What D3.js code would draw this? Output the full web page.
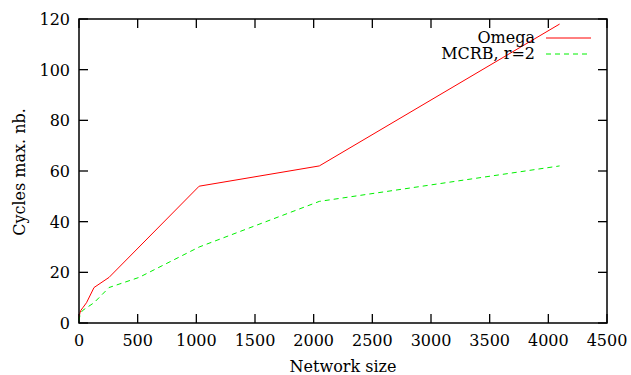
<!DOCTYPE html>
<html><head><meta charset="utf-8">
<script src="https://cdn.jsdelivr.net/npm/d3@7"></script>
<style>body{margin:0;background:#fff}svg{display:block}text{font-family:"DejaVu Serif","Liberation Serif",serif;fill:#000}</style>
</head><body>
<svg id="c" width="631" height="375"></svg>
<script>
const sizes = [2, 4, 8, 16, 32, 64, 128, 256, 512, 1024, 2048, 4096];
const omega = [2, 3, 4, 5, 6, 8, 14, 18, 30, 54, 62, 118];
const mcrb  = [1, 2, 3, 4, 5, 6, 8, 14, 18, 30, 48, 62];
const xTicks = [0, 500, 1000, 1500, 2000, 2500, 3000, 3500, 4000, 4500];
const yTicks = [0, 20, 40, 60, 80, 100, 120];
const seriesNames = ["Omega", "MCRB, r=2"];

const svg = d3.select("#c");
const L = 79, R = 607, T = 19, B = 323;
const x = d3.scaleLinear().domain([0, 4500]).range([L, R]);
const y = d3.scaleLinear().domain([0, 120]).range([B, T]);
const fs = 16, tl = 9;
const green = "#00f000", red = "#ff0000", dash = "5,4";

// ticks (inward, mirrored)
const g = svg.append("g").attr("stroke", "#000").attr("stroke-width", 1.3);
xTicks.forEach(v => {
  g.append("line").attr("x1", x(v)).attr("x2", x(v)).attr("y1", B).attr("y2", B - tl);
  g.append("line").attr("x1", x(v)).attr("x2", x(v)).attr("y1", T).attr("y2", T + tl);
});
yTicks.forEach(v => {
  g.append("line").attr("x1", L).attr("x2", L + tl).attr("y1", y(v)).attr("y2", y(v));
  g.append("line").attr("x1", R).attr("x2", R - tl).attr("y1", y(v)).attr("y2", y(v));
});

// tick labels
svg.append("g").selectAll("text").data(xTicks).join("text")
  .attr("x", d => x(d)).attr("y", 346).attr("text-anchor", "middle")
  .attr("font-size", fs).text(d => d);
svg.append("g").selectAll("text").data(yTicks).join("text")
  .attr("x", 70).attr("y", d => y(d) + 6).attr("text-anchor", "end")
  .attr("font-size", fs).text(d => d);

// axis titles
svg.append("text").attr("x", 343).attr("y", 372).attr("text-anchor", "middle")
  .attr("font-size", fs).text("Network size");
svg.append("text").attr("transform", "translate(25,172) rotate(-90)")
  .attr("text-anchor", "middle").attr("font-size", fs).text("Cycles max. nb.");

// lines
const line = d3.line().x(d => x(d[0])).y(d => y(d[1]));
const dOmega = sizes.map((s, i) => [s, omega[i]]);
const dMcrb = sizes.map((s, i) => [s, mcrb[i]]);
svg.append("path").datum(dOmega).attr("d", line).attr("fill", "none")
  .attr("stroke", red).attr("stroke-width", 1);
svg.append("path").datum(dMcrb).attr("d", line).attr("fill", "none")
  .attr("stroke", green).attr("stroke-width", 1).attr("stroke-dasharray", dash);

// legend
const leg = [
  {name: seriesNames[0], color: red, dash: null, yy: 38},
  {name: seriesNames[1], color: green, dash: dash, yy: 54}
];
leg.forEach(l => {
  svg.append("text").attr("x", 535).attr("y", l.yy + 5).attr("text-anchor", "end")
    .attr("font-size", fs).text(l.name);
  svg.append("line").attr("x1", 546).attr("x2", 591).attr("y1", l.yy).attr("y2", l.yy)
    .attr("stroke", l.color).attr("stroke-width", 1).attr("stroke-dasharray", l.dash);
});

// frame
svg.append("rect").attr("x", L).attr("y", T).attr("width", R - L).attr("height", B - T)
  .attr("fill", "none").attr("stroke", "#000").attr("stroke-width", 1.5);
</script>
</body></html>
